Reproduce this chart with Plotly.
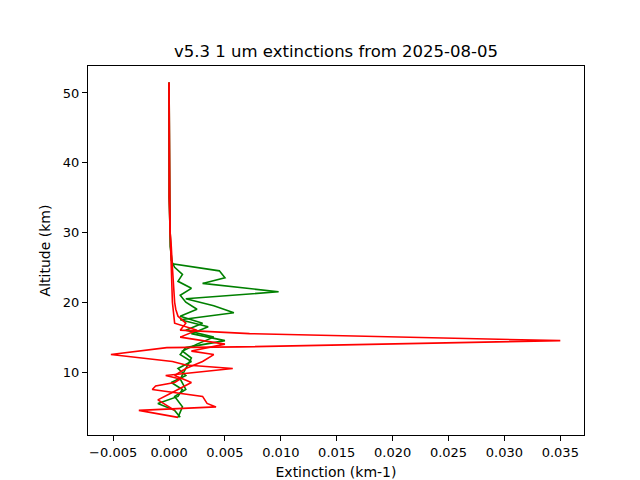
import plotly.graph_objects as go

red_alt = [3.5,4.5,5.0,5.5,6.5,7.5,8.0,8.5,9.0,9.5,10.5,11.0,11.5,12.5,13.5,13.6,14.5,15.5,16.0,17.0,18.0,19.0,20.0,22.0,25.0,28.0,30.0,35.0,40.0,45.0,51.5]
red_ext = [0.0008,-0.0027,0.0042,0.0034,0.0030,-0.0015,-0.0012,0.0005,0.0010,-0.0003,0.0057,0.0015,0.0003,-0.0052,-0.0002,0.0063,0.0350,0.0072,0.0010,0.0015,0.0008,0.0006,0.0005,0.0004,0.0003,0.0002,0.0001,0.0,0.0,0.0,0.0]

red2_alt = [4.5,6.0,7.0,8.5,9.5,10.5,11.5,12.5,13.0,14.0,15.0,16.0,17.0,20.0,30.0,51.5]
red2_ext = [0.0005,-0.0010,0.0002,0.0020,0.0005,0.0015,0.0030,0.0040,0.0020,0.0050,0.0010,0.0025,0.0005,0.0003,0.0001,0.0]

green_alt = [3.5,4.5,5.5,6.5,7.5,8.5,9.5,10.5,11.5,12.5,13.5,14.5,15.5,16.5,17.5,18.5,19.5,20.5,21.5,22.7,23.5,24.5,25.5,26.5,28.0,30.0,35.0,40.0,51.5]
green_ext = [0.0010,0.0005,-0.0010,0.0008,0.0012,0.0002,0.0015,0.0008,0.0020,0.0010,0.0015,0.0050,0.0020,0.0035,0.0010,0.0058,0.0040,0.0015,0.0098,0.0030,0.0050,0.0045,0.0003,0.0002,0.0001,0.0001,0.0,0.0,0.0]

green2_alt = [3.5,5.0,6.5,7.5,9.0,10.5,12.0,13.0,14.0,15.0,16.0,17.0,18.0,19.0,20.0,21.0,22.0,23.0,24.0,25.0,26.0,30.0,51.5]
green2_ext = [0.0008,0.0012,0.0005,0.0015,0.0010,0.0015,0.0020,0.0012,0.0025,0.0040,0.0015,0.0030,0.0010,0.0025,0.0015,0.0010,0.0020,0.0008,0.0012,0.0005,0.0002,0.0001,0.0]

fig = go.Figure()
for x, y, c in [(green2_ext, green2_alt, "green"), (green_ext, green_alt, "green"),
                (red2_ext, red2_alt, "red"), (red_ext, red_alt, "red")]:
    fig.add_trace(go.Scatter(x=x, y=y, mode="lines", line=dict(color=c, width=1.6), showlegend=False))

axis = dict(showgrid=False, zeroline=False, showline=True, mirror=True, linecolor="black",
            ticks="outside", tickcolor="black", ticklen=5, automargin=False,
            tickfont=dict(size=13, color="black"))
fig.update_layout(
    width=640, height=480, plot_bgcolor="white", paper_bgcolor="white",
    font=dict(family="DejaVu Sans", color="black"),
    title=dict(text="v5.3 1 um extinctions from 2025-08-05", x=0.5, xref="paper", y=0.91, yanchor="middle",
               xanchor="center", font=dict(size=16.5)),
    margin=dict(l=80, r=64, t=58, b=53),
    xaxis=dict(axis, range=[-0.00725, 0.03712], tickvals=[-0.005,0,0.005,0.01,0.015,0.02,0.025,0.03,0.035],
               tickformat=".3f", title=dict(text="Extinction (km-1)", font=dict(size=14), standoff=8)),
    yaxis=dict(axis, range=[0.97, 53.87], tickvals=[10,20,30,40,50],
               title=dict(text="Altitude (km)", font=dict(size=14), standoff=8)),
)
fig.write_html("out.html")
